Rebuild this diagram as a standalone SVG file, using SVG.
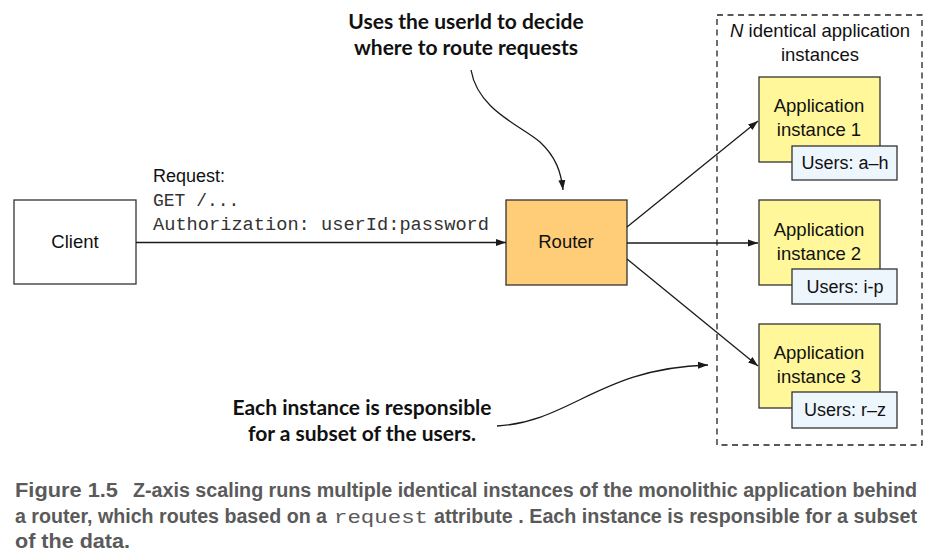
<svg xmlns="http://www.w3.org/2000/svg" width="941" height="557" viewBox="0 0 941 557">
<defs>
<marker id="ah" viewBox="0 0 10 10" refX="10" refY="5" markerWidth="10" markerHeight="10" markerUnits="userSpaceOnUse" orient="auto">
<path d="M0,1.5 L10,5 L0,8.5 Z" fill="#1a1a1a"/>
</marker>
<style>
.box{stroke:#333;stroke-width:1.3}
.lbl{font-family:"Liberation Sans",Arial,sans-serif;font-size:18.5px;fill:#111;text-anchor:middle}
.usr{font-family:"Liberation Sans",Arial,sans-serif;font-size:18px;fill:#111;text-anchor:middle}
.ann{font-family:Lato,"Open Sans",sans-serif;font-weight:700;font-size:21px;fill:#111;text-anchor:middle}
.mono{font-family:"Liberation Mono","Courier New",monospace;font-size:18px;fill:#333}
.cap{font-family:"Liberation Sans",Arial,sans-serif;font-weight:700;font-size:20px;fill:#5a5a5a}
.capm{font-family:"Liberation Mono","Courier New",monospace;font-weight:400;font-size:19px;fill:#5a5a5a}
.con{fill:none;stroke:#1a1a1a;stroke-width:1.3}
</style>
</defs>
<rect width="941" height="557" fill="#fff"/>

<g id="group-instances">
<rect x="717" y="15" width="205" height="430" fill="none" stroke="#222" stroke-width="1.3" stroke-dasharray="6,4.5"/>
<text class="lbl" x="820" y="37"><tspan font-style="italic">N</tspan> identical application</text>
<text class="lbl" x="820" y="61">instances</text>
</g>

<g id="client">
<rect class="box" x="14" y="200" width="122" height="84" fill="#fff"/>
<text class="lbl" x="75" y="248">Client</text>
</g>

<g id="router">
<rect class="box" x="506" y="200" width="121" height="85" fill="#FFCC77"/>
<text class="lbl" x="566" y="248">Router</text>
</g>

<g id="app1">
<rect class="box" x="759" y="77" width="121" height="85" fill="#FFF799"/>
<text class="lbl" x="819" y="112">Application</text>
<text class="lbl" x="819" y="136">instance 1</text>
<rect class="box" x="792" y="146" width="105" height="34" fill="#EEF6FD"/>
<text class="usr" x="845" y="169">Users: a–h</text>
</g>

<g id="app2">
<rect class="box" x="759" y="200" width="121" height="85" fill="#FFF799"/>
<text class="lbl" x="819" y="236">Application</text>
<text class="lbl" x="819" y="260">instance 2</text>
<rect class="box" x="792" y="269" width="105" height="35" fill="#EEF6FD"/>
<text class="usr" x="845" y="293">Users: i-p</text>
</g>

<g id="app3">
<rect class="box" x="759" y="324" width="121" height="84" fill="#FFF799"/>
<text class="lbl" x="819" y="359">Application</text>
<text class="lbl" x="819" y="383">instance 3</text>
<rect class="box" x="792" y="392" width="105" height="36" fill="#EEF6FD"/>
<text class="usr" x="845" y="416">Users: r–z</text>
</g>

<g id="connectors">
<line class="con" x1="136" y1="242.5" x2="506" y2="242.5" marker-end="url(#ah)"/>
<line class="con" x1="627" y1="227" x2="758" y2="121" marker-end="url(#ah)"/>
<line class="con" x1="627" y1="243" x2="758" y2="243" marker-end="url(#ah)"/>
<line class="con" x1="627" y1="259" x2="758" y2="366" marker-end="url(#ah)"/>
<path class="con" d="M471,70 C478,110 520,125 540,142 C556,157 561,172 563,190" marker-end="url(#ah)"/>
<path class="con" d="M497,426 C570,422 600,368 708,365" marker-end="url(#ah)"/>
</g>

<g id="request-label">
<text x="153" y="182" font-family="Liberation Sans,Arial,sans-serif" font-size="18px" fill="#111">Request:</text>
<text class="mono" x="153" y="206">GET /...</text>
<text class="mono" x="153" y="230" textLength="336" lengthAdjust="spacingAndGlyphs">Authorization: userId:password</text>
</g>

<g id="annotation-top">
<text class="ann" x="466" y="29">Uses the userId to decide</text>
<text class="ann" x="466" y="55">where to route requests</text>
</g>

<g id="annotation-bottom">
<text class="ann" x="362" y="415">Each instance is responsible</text>
<text class="ann" x="362" y="441">for a subset of the users.</text>
</g>

<g id="caption">
<text class="cap" x="15" y="497" textLength="103" lengthAdjust="spacingAndGlyphs">Figure 1.5</text>
<text class="cap" x="133" y="497" textLength="784" lengthAdjust="spacingAndGlyphs">Z-axis scaling runs multiple identical instances of the monolithic application behind</text>
<text class="cap" x="15" y="523" textLength="312" lengthAdjust="spacingAndGlyphs">a router, which routes based on a</text>
<text class="capm" x="334" y="523" textLength="94" lengthAdjust="spacingAndGlyphs">request</text>
<text class="cap" x="434" y="523" textLength="483" lengthAdjust="spacingAndGlyphs">attribute . Each instance is responsible for a subset</text>
<text class="cap" x="15" y="548" textLength="115" lengthAdjust="spacingAndGlyphs">of the data.</text>
</g>
</svg>
